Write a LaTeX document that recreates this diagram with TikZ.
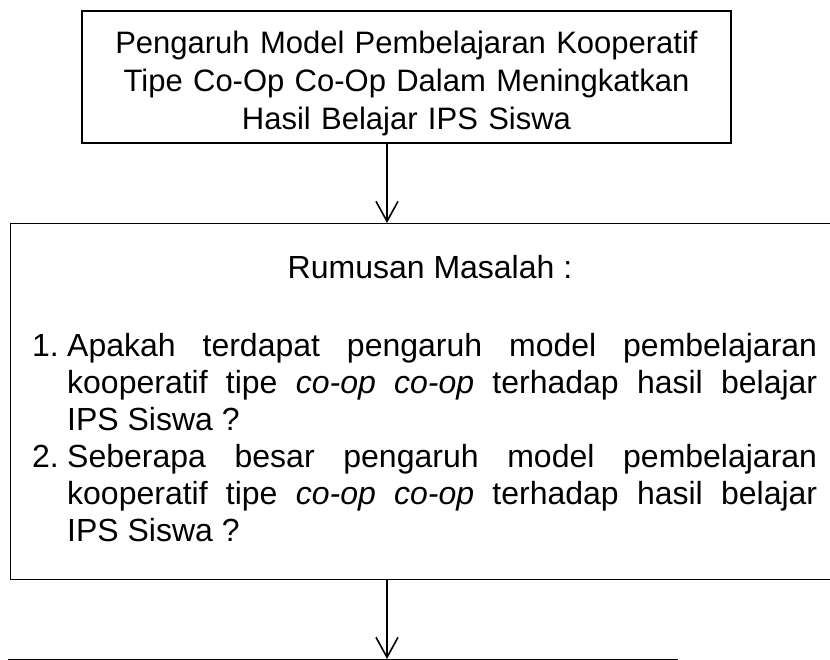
\documentclass[tikz,border=0pt]{standalone}
\usepackage{fontspec}
\setmainfont{Liberation Sans}
\usetikzlibrary{arrows.meta}
\tikzset{
  boxstyle/.style={draw=black, line width=1.4pt, inner sep=0pt},
  arr/.style={line width=1.6pt, -{Straight Barb[length=20pt,width=22pt,line width=1.6pt]}},
  txt/.style={inner sep=0pt, font=\fontsize{32}{37}\selectfont}
}
\begin{document}
\begin{tikzpicture}[x=1pt,y=-1pt]
\useasboundingbox (0,0) rectangle (830,660);
\fill[white] (0,0) rectangle (830,660);
% top box
\node[boxstyle, minimum width=649pt, minimum height=132pt] (top) at (406.5,77) {};
\node[inner sep=0pt, anchor=base, text width=649pt, align=center,
      font=\fontsize{31}{38}\selectfont] (toptext) at (406.5,54)
  {Pengaruh Model Pembelajaran Kooperatif\\Tipe Co-Op Co-Op Dalam Meningkatkan\\Hasil Belajar IPS Siswa};
% second box (extends past right edge)
\node[boxstyle, minimum width=840pt, minimum height=356pt, anchor=north west] (rm) at (10,223) {};
\node[txt, anchor=base] (rmtitle) at (430,279) {Rumusan Masalah :};
\node[txt, anchor=base west, text width=785pt, align=justify] (rmlist) at (32,356)
  {\hyphenpenalty=10000\exhyphenpenalty=10000
   \hangindent=35pt\hangafter=1\noindent\makebox[35pt][l]{1.}Apakah terdapat pengaruh model pembelajaran\linebreak kooperatif tipe \textit{co-op co-op} terhadap hasil belajar\linebreak IPS Siswa ?\par
   \hangindent=35pt\hangafter=1\noindent\makebox[35pt][l]{2.}Seberapa besar pengaruh model pembelajaran\linebreak kooperatif tipe \textit{co-op co-op} terhadap hasil belajar\linebreak IPS Siswa ?\par};
% next box (only top visible)
\node[boxstyle, minimum width=669pt, minimum height=60pt, anchor=north west] (next) at (8,659) {};
\coordinate (ax) at (387,0);
\draw[arr] (top.south -| ax) -- (rm.north -| ax);
\draw[arr] (rm.south -| ax) -- (next.north -| ax);
\end{tikzpicture}
\end{document}
